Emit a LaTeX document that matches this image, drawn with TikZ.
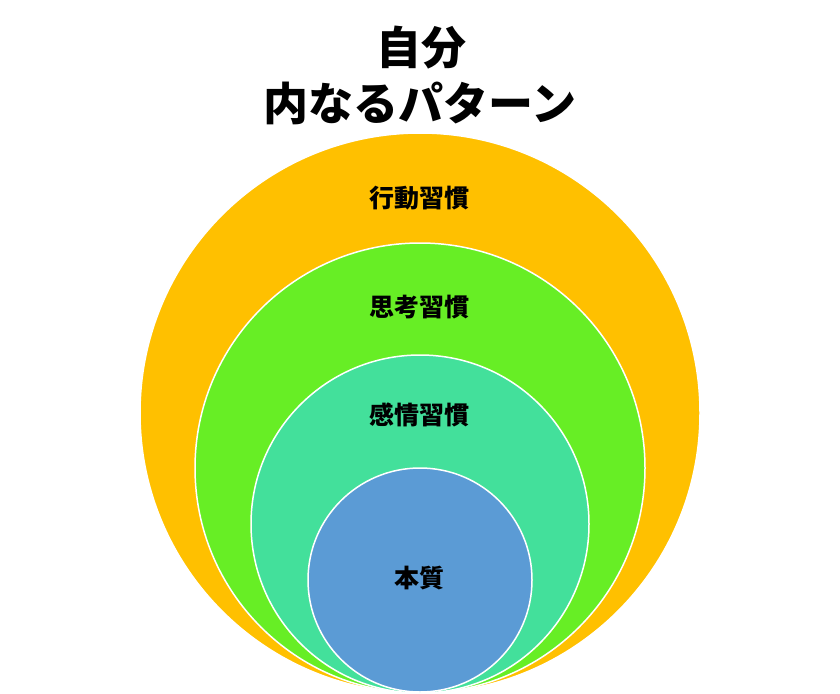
\documentclass[tikz,border=0pt]{standalone}
\usepackage{fontspec}
\newfontfamily\cjk{Noto Sans CJK JP}
\definecolor{cOrange}{HTML}{FFC000}
\definecolor{cGreen}{HTML}{67EE25}
\definecolor{cTeal}{HTML}{43E09B}
\definecolor{cBlue}{HTML}{5B9BD5}
\tikzset{
  ring/.style={draw=white, line width=1.5pt},
  lbl/.style={font=\cjk\bfseries\fontsize{25}{28}\selectfont, text=black},
  ttl/.style={font=\cjk\bfseries\fontsize{45}{54}\selectfont, text=black, align=center}
}
\begin{document}
\begin{tikzpicture}[x=1pt,y=-1pt]
\useasboundingbox[fill=white] (0,0) rectangle (840,693);
\fill[cOrange, ring] (420,413) circle (280);
\fill[cGreen, ring] (420,468) circle (225);
\fill[cTeal, ring] (420,524) circle (169);
\fill[cBlue, ring] (420,580) circle (112);
\node[ttl] (t1) at (421,48) {自分};
\node[ttl] (t2) at (420,103) {内なるパターン};
\node[lbl] (l1) at (419,198) {行動習慣};
\node[lbl] (l2) at (419,307) {思考習慣};
\node[lbl] (l3) at (419,415) {感情習慣};
\node[lbl] (l4) at (419,578) {本質};
\end{tikzpicture}
\end{document}
